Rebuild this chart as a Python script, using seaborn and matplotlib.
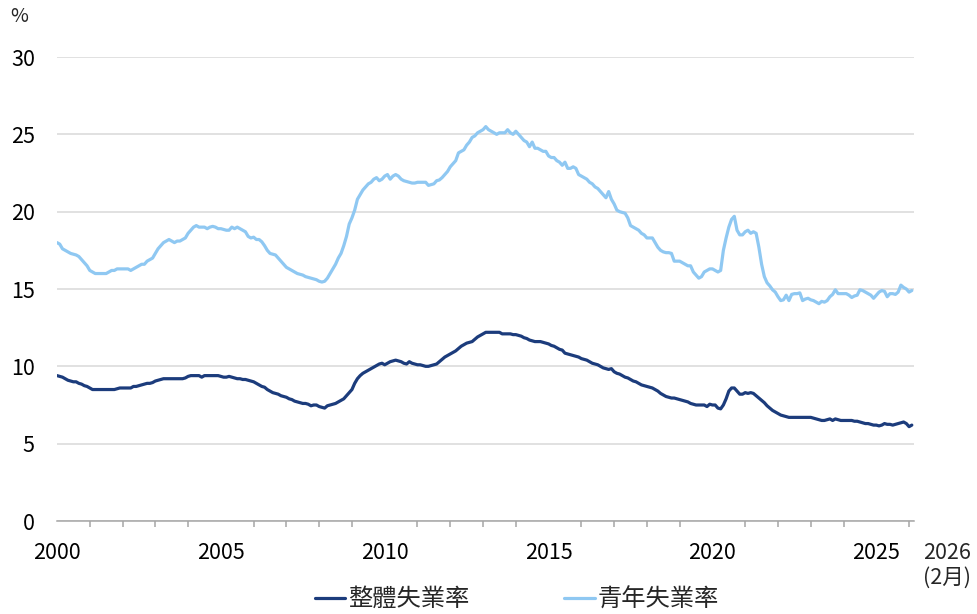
import numpy as np
import pandas as pd
import matplotlib
matplotlib.use("Agg")
import matplotlib.pyplot as plt
import seaborn as sns

# monthly data, Jan 2000 .. Feb 2026 (%)
START_YEAR = 2000
SERIES_NAMES = ["整體失業率", "青年失業率"]

overall = [
    9.4, 9.35, 9.3, 9.2, 9.1, 9.05, 9.0, 9.0, 8.9, 8.85, 8.75, 8.7,        # 2000
    8.6, 8.5, 8.5, 8.5, 8.5, 8.5, 8.5, 8.5, 8.5, 8.5, 8.55, 8.6,           # 2001
    8.6, 8.6, 8.6, 8.6, 8.7, 8.7, 8.75, 8.8, 8.85, 8.9, 8.9, 8.95,         # 2002
    9.05, 9.1, 9.15, 9.2, 9.2, 9.2, 9.2, 9.2, 9.2, 9.2, 9.2, 9.25,         # 2003
    9.35, 9.4, 9.4, 9.4, 9.4, 9.3, 9.4, 9.4, 9.4, 9.4, 9.4, 9.4,           # 2004
    9.35, 9.3, 9.3, 9.35, 9.3, 9.25, 9.2, 9.2, 9.15, 9.15, 9.1, 9.05,      # 2005
    9.0, 8.9, 8.8, 8.7, 8.65, 8.5, 8.4, 8.3, 8.25, 8.2, 8.1, 8.05,         # 2006
    8.0, 7.9, 7.85, 7.75, 7.7, 7.65, 7.6, 7.6, 7.55, 7.45, 7.5, 7.5,       # 2007
    7.4, 7.35, 7.3, 7.45, 7.5, 7.55, 7.6, 7.7, 7.8, 7.9, 8.1, 8.3,         # 2008
    8.5, 8.9, 9.2, 9.4, 9.55, 9.65, 9.75, 9.85, 9.95, 10.05, 10.15, 10.2,  # 2009
    10.1, 10.2, 10.3, 10.35, 10.4, 10.35, 10.3, 10.2, 10.15, 10.3, 10.2, 10.15,  # 2010
    10.1, 10.1, 10.05, 10.0, 10.0, 10.05, 10.1, 10.15, 10.3, 10.45, 10.6, 10.7,  # 2011
    10.8, 10.9, 11.0, 11.15, 11.3, 11.4, 11.5, 11.55, 11.6, 11.75, 11.9, 12.0,   # 2012
    12.1, 12.2, 12.2, 12.2, 12.2, 12.2, 12.2, 12.1, 12.1, 12.1, 12.1, 12.05,     # 2013
    12.05, 12.0, 11.95, 11.85, 11.8, 11.7, 11.65, 11.6, 11.6, 11.6, 11.55, 11.5, # 2014
    11.45, 11.35, 11.3, 11.2, 11.1, 11.05, 10.85, 10.8, 10.75, 10.7, 10.65, 10.6,  # 2015
    10.5, 10.45, 10.4, 10.3, 10.2, 10.15, 10.1, 10.0, 9.9, 9.85, 9.8, 9.85,  # 2016
    9.65, 9.55, 9.5, 9.4, 9.3, 9.25, 9.15, 9.05, 9.0, 8.9, 8.8, 8.75,      # 2017
    8.7, 8.65, 8.6, 8.5, 8.4, 8.25, 8.15, 8.05, 8.0, 7.95, 7.95, 7.9,      # 2018
    7.85, 7.8, 7.75, 7.7, 7.6, 7.55, 7.5, 7.5, 7.5, 7.5, 7.4, 7.55,        # 2019
    7.5, 7.5, 7.3, 7.25, 7.5, 7.9, 8.4, 8.6, 8.6, 8.4, 8.2, 8.2,           # 2020
    8.3, 8.25, 8.3, 8.25, 8.1, 7.95, 7.8, 7.65, 7.45, 7.3, 7.15, 7.05,     # 2021
    6.95, 6.85, 6.8, 6.75, 6.7, 6.7, 6.7, 6.7, 6.7, 6.7, 6.7, 6.7,         # 2022
    6.7, 6.65, 6.6, 6.55, 6.5, 6.5, 6.55, 6.6, 6.5, 6.6, 6.55, 6.5,        # 2023
    6.5, 6.5, 6.5, 6.5, 6.45, 6.45, 6.4, 6.35, 6.3, 6.3, 6.25, 6.2,        # 2024
    6.2, 6.15, 6.2, 6.3, 6.25, 6.25, 6.2, 6.25, 6.3, 6.35, 6.4, 6.3,       # 2025
    6.1, 6.2,                                                              # 2026
]

youth = [
    18.0, 17.9, 17.6, 17.5, 17.4, 17.3, 17.25, 17.2, 17.1, 16.9, 16.7, 16.5,  # 2000
    16.2, 16.1, 16.0, 16.0, 16.0, 16.0, 16.0, 16.1, 16.2, 16.2, 16.3, 16.3,   # 2001
    16.3, 16.3, 16.3, 16.2, 16.3, 16.4, 16.5, 16.6, 16.6, 16.8, 16.9, 17.0,   # 2002
    17.3, 17.6, 17.8, 18.0, 18.1, 18.2, 18.1, 18.0, 18.1, 18.1, 18.2, 18.3,   # 2003
    18.6, 18.8, 19.0, 19.1, 19.0, 19.0, 19.0, 18.9, 19.0, 19.05, 19.0, 18.9,  # 2004
    18.9, 18.85, 18.8, 18.8, 19.0, 18.9, 19.0, 18.9, 18.8, 18.7, 18.4, 18.3,  # 2005
    18.35, 18.2, 18.2, 18.05, 17.8, 17.5, 17.3, 17.25, 17.2, 17.0, 16.8, 16.6,  # 2006
    16.4, 16.3, 16.2, 16.1, 16.0, 15.95, 15.9, 15.8, 15.75, 15.7, 15.65, 15.6,  # 2007
    15.5, 15.45, 15.5, 15.7, 16.0, 16.3, 16.6, 17.0, 17.3, 17.8, 18.4, 19.2,  # 2008
    19.6, 20.1, 20.8, 21.1, 21.4, 21.6, 21.8, 21.9, 22.1, 22.2, 22.0, 22.1,   # 2009
    22.3, 22.4, 22.1, 22.3, 22.4, 22.3, 22.1, 22.0, 21.95, 21.9, 21.85, 21.85,  # 2010
    21.9, 21.9, 21.9, 21.9, 21.7, 21.75, 21.8, 22.0, 22.05, 22.2, 22.4, 22.6,   # 2011
    22.9, 23.1, 23.3, 23.8, 23.9, 24.0, 24.3, 24.5, 24.8, 24.9, 25.1, 25.2,   # 2012
    25.3, 25.5, 25.3, 25.2, 25.1, 25.0, 25.1, 25.1, 25.1, 25.3, 25.1, 25.0,   # 2013
    25.2, 25.0, 24.8, 24.6, 24.5, 24.2, 24.5, 24.1, 24.1, 24.0, 23.9, 23.9,   # 2014
    23.6, 23.5, 23.5, 23.3, 23.2, 23.0, 23.2, 22.8, 22.8, 22.9, 22.8, 22.4,   # 2015
    22.3, 22.2, 22.1, 21.9, 21.8, 21.6, 21.5, 21.3, 21.1, 20.9, 21.3, 20.8,   # 2016
    20.5, 20.1, 20.0, 19.95, 19.9, 19.6, 19.1, 19.0, 18.9, 18.8, 18.6, 18.5,  # 2017
    18.3, 18.3, 18.3, 18.0, 17.7, 17.5, 17.4, 17.35, 17.35, 17.3, 16.8, 16.8,  # 2018
    16.8, 16.7, 16.6, 16.5, 16.5, 16.1, 15.9, 15.7, 15.8, 16.1, 16.2, 16.3,   # 2019
    16.3, 16.2, 16.1, 16.2, 17.5, 18.3, 19.0, 19.5, 19.7, 18.8, 18.5, 18.5,   # 2020
    18.7, 18.8, 18.6, 18.7, 18.6, 17.7, 16.6, 15.8, 15.4, 15.2, 14.95, 14.8,  # 2021
    14.5, 14.25, 14.3, 14.6, 14.25, 14.65, 14.7, 14.7, 14.75, 14.25, 14.35, 14.4,  # 2022
    14.3, 14.25, 14.15, 14.05, 14.2, 14.15, 14.25, 14.5, 14.65, 14.95, 14.7, 14.7,  # 2023
    14.7, 14.7, 14.6, 14.45, 14.55, 14.6, 14.95, 14.9, 14.8, 14.7, 14.6, 14.4,  # 2024
    14.6, 14.8, 14.9, 14.85, 14.5, 14.7, 14.7, 14.65, 14.8, 15.25, 15.1, 15.0,  # 2025
    14.8, 14.9,                                                               # 2026
]

MAJOR_YEARS = [2000, 2005, 2010, 2015, 2020, 2025]
Y_TICKS = [0, 5, 10, 15, 20, 25, 30]
LAST_LABEL = "2026\n(2月)"

DARK = "#1c3c7c"
LIGHT = "#8fc8f2"
GRID = "#d9d9d9"
AXIS = "#a6a6a6"


def main():
    sns.set_theme(style="white")
    plt.rcParams["font.family"] = ["Noto Sans CJK TC", "DejaVu Sans"]

    months = np.arange(len(overall))
    df = pd.concat([
        pd.DataFrame({"year": START_YEAR + months / 12, "rate": overall, "series": SERIES_NAMES[0]}),
        pd.DataFrame({"year": START_YEAR + np.arange(len(youth)) / 12, "rate": youth, "series": SERIES_NAMES[1]}),
    ])

    fig = plt.figure(figsize=(9.77, 6.14), dpi=100)
    ax = fig.add_axes([57 / 977, 1 - 521 / 614, (914 - 57) / 977, (521 - 57) / 614])

    sns.lineplot(data=df, x="year", y="rate", hue="series", hue_order=SERIES_NAMES,
                 palette=[DARK, LIGHT], linewidth=2.3, ax=ax)

    ax.set_xlim(2000, 2026.15)
    ax.set_ylim(0, 30)
    ax.set_xlabel("")
    ax.set_ylabel("")

    # y axis
    ax.set_yticks(Y_TICKS)
    ax.tick_params(axis="y", length=0, pad=16, labelsize=15.5, labelcolor="black")
    ax.grid(axis="y", color=GRID, linewidth=1.1)
    ax.grid(axis="x", visible=False)

    # x axis
    ax.set_xticks(MAJOR_YEARS)
    ax.set_xticklabels([str(y) for y in MAJOR_YEARS])
    ax.set_xticks([y for y in range(2001, 2027) if y % 5 != 0], minor=True)
    ax.tick_params(axis="x", which="major", direction="inout", length=11.5, width=1.1,
                   color=AXIS, pad=9.3, labelsize=15.5, labelcolor="black")
    ax.tick_params(axis="x", which="minor", direction="out", length=4.3, width=1.1,
                   color=AXIS, bottom=True)

    for side in ["left", "right", "top"]:
        ax.spines[side].set_visible(False)
    ax.spines["bottom"].set_color(AXIS)
    ax.spines["bottom"].set_linewidth(1.1)

    ax.annotate(LAST_LABEL, xy=(947 / 977, 0), xycoords=("figure fraction", "axes fraction"),
                xytext=(0, -15), textcoords="offset points", ha="center", va="top",
                fontsize=15.5, linespacing=1.15, annotation_clip=False)

    fig.text(10 / 977, 1 - 17 / 614, "%", fontsize=14, va="center", ha="left")

    # legend at the bottom
    handles, labels = ax.get_legend_handles_labels()
    ax.get_legend().remove()
    fig.legend(handles, labels, loc="center", bbox_to_anchor=(0.529, 0.024), ncol=2,
               frameon=False, fontsize=17.5, handlelength=1.25, handletextpad=0.12,
               columnspacing=3.9)

    fig.savefig("out.png", dpi=100)


if __name__ == "__main__":
    main()
